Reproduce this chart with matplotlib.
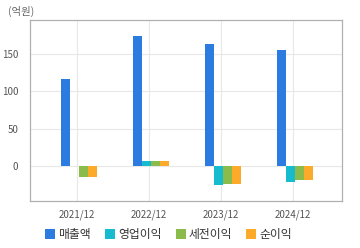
import numpy as np
import matplotlib
matplotlib.use("Agg")
import matplotlib.pyplot as plt
from matplotlib.lines import Line2D

plt.rcParams['font.family'] = ['Noto Sans CJK KR', 'DejaVu Sans']

years = ['2021/12', '2022/12', '2023/12', '2024/12']
series = ['매출액', '영업이익', '세전이익', '순이익']
sales = [117, 174, 163, 155]
op_income = [1, 7, -25, -20.5]
pretax_income = [-14, 7, -23, -18]
net_income = [-14, 7, -23, -18]
colors = ['#2b7be0', '#16bccd', '#8bbb4a', '#fcaa2a']

values = [sales, op_income, pretax_income, net_income]

fig = plt.figure(figsize=(3.6, 2.48), dpi=100)
ax = fig.add_axes([0.082, 0.19, 0.868, 0.729])

x = np.arange(len(years))
w = 0.125
offsets = [-0.164, -0.039, 0.086, 0.211]
for vals, off, c in zip(values, offsets, colors):
    ax.bar(x + off, vals, width=w, color=c, zorder=3, linewidth=0)

ax.set_xlim(-0.66, 3.68)
ax.set_ylim(-46, 195)
ax.set_xticks(x)
ax.set_xticklabels(years)
ax.set_yticks([0, 50, 100, 150])
ax.tick_params(length=0, labelsize=7, colors='#555555', pad=6)
ax.tick_params(axis='y', pad=8)
ax.grid(True, color='#e8e8e8', linewidth=0.8, zorder=0)
for s in ax.spines.values():
    s.set_color('#b0b0b0')
    s.set_linewidth(0.9)

fig.text(0.022, 0.955, '(억원)', fontsize=7.5, color='#666666', va='center')

handles = [Line2D([], [], marker='s', linestyle='none', markersize=6.5,
                  markerfacecolor=c, markeredgewidth=0) for c in colors]
fig.legend(handles, series, loc='center', bbox_to_anchor=(0.467, 0.055),
           ncol=4, frameon=False, fontsize=8.5, handletextpad=0.2,
           columnspacing=1.1, handlelength=1.0, labelcolor='#333333')

fig.savefig('out.png', dpi=100, facecolor='white')
